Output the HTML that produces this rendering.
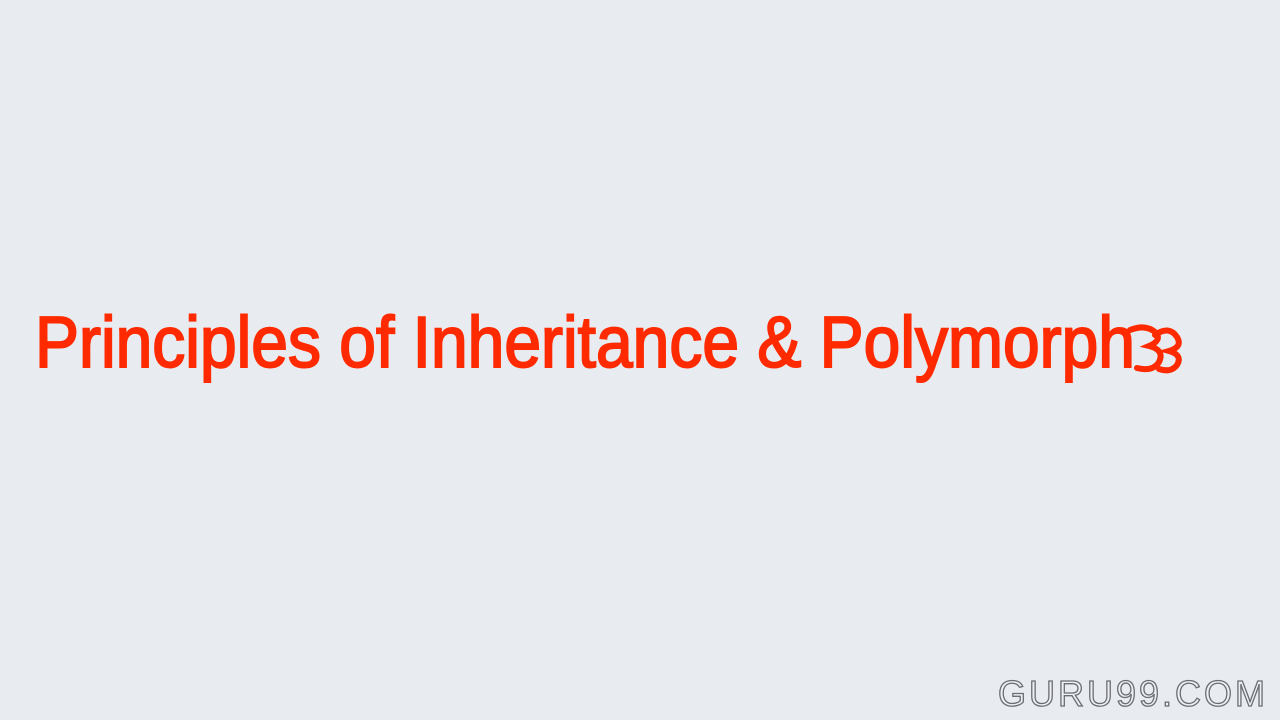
<!DOCTYPE html>
<html><head><meta charset="utf-8"><style>
html,body{margin:0;padding:0;width:1280px;height:720px;overflow:hidden;background:#e8ebef;}
svg{display:block}
</style></head><body>
<svg width="1280" height="720">
<rect width="1280" height="720" fill="#e8ebef"/>
<text x="35" y="367" font-family="Liberation Sans, sans-serif" font-size="72" fill="#ff2a00" stroke="#ff2a00" stroke-width="2" textLength="1100" lengthAdjust="spacingAndGlyphs">Principles of Inheritance &amp; Polymorph</text>
<path d="M1130 330 q15 -6 25 2 q8 8 -6 14 q16 4 10 16 q-6 10 -22 6 M1155 335 q14 -10 22 2 q6 10 -8 14 q14 4 8 14 q-6 8 -18 4" fill="none" stroke="#ff2a00" stroke-width="6" stroke-linecap="round"/>
<text x="1268" y="706" text-anchor="end" font-family="Liberation Sans, sans-serif" font-size="36" fill="#eef0f3" stroke="#6a6d72" stroke-width="1.3" letter-spacing="3">GURU99.COM</text>
</svg>
</body></html>
